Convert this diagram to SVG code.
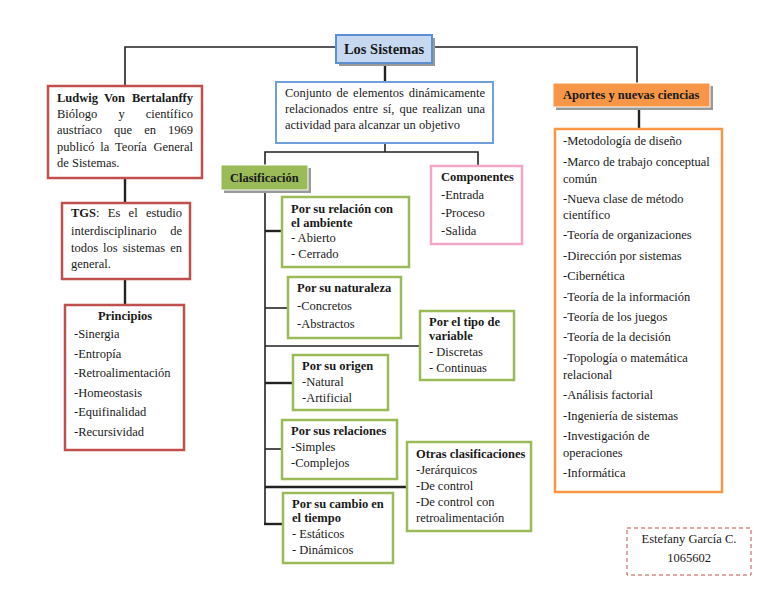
<svg xmlns="http://www.w3.org/2000/svg" width="768" height="594" viewBox="0 0 768 594" font-family="'Liberation Serif', 'Times New Roman', serif">
<defs>
<style>
text{font-family:"Liberation Serif","Times New Roman",serif;font-size:12.5px;fill:#1a1a1a}
.b{font-weight:bold}
.red{fill:#fff;stroke:#c0504d;stroke-width:2.5}
.grn{fill:#fff;stroke:#9bbb59;stroke-width:2.5}
.ln{stroke:#222;stroke-width:1.6;fill:none}
.lt{stroke:#222;stroke-width:2.4;fill:none}
.sh{fill:#999}
</style>
</defs>
<rect width="768" height="594" fill="#fff"/>
<g id="connectors">
<polyline class="ln" points="125,86 125,47 637,47 637,83"/>
<line class="lt" x1="385" y1="63" x2="385" y2="82"/>
<line class="ln" x1="385" y1="143" x2="385" y2="152"/>
<polyline class="ln" points="265,165 265,152 478,152 478,166"/>
<line class="ln" x1="265" y1="190" x2="265" y2="524"/>
<line class="lt" x1="265" y1="231" x2="282" y2="231"/>
<line class="ln" x1="265" y1="308" x2="288" y2="308"/>
<line class="ln" x1="265" y1="346" x2="420" y2="346"/>
<line class="lt" x1="265" y1="383" x2="293" y2="383"/>
<line class="ln" x1="265" y1="449" x2="282" y2="449"/>
<line class="lt" x1="265" y1="487" x2="407" y2="487"/>
<line class="lt" x1="264" y1="524" x2="283" y2="524"/>
<line class="lt" x1="125" y1="178" x2="125" y2="203"/>
<line class="lt" x1="125" y1="279" x2="125" y2="305"/>
<line class="lt" x1="639" y1="107" x2="639" y2="129"/>
</g>
<g id="los-sistemas">
<rect x="339" y="38" width="96" height="28" class="sh"/>
<rect x="336" y="35" width="96" height="28" fill="#c6d9f1" stroke="#5b8fd0" stroke-width="2"/>
<text x="384" y="54" class="b" text-anchor="middle" style="font-size:14.5px">Los Sistemas</text>
</g>
<g id="conjunto">
<rect x="276" y="82" width="217" height="61" fill="#fff" stroke="#6fa0dc" stroke-width="2"/>
<text y="97"><tspan x="285">Conjunto</tspan><tspan x="336.4">de</tspan><tspan x="353.1">elementos</tspan><tspan x="485" text-anchor="end">dinámicamente</tspan></text>
<text y="113"><tspan x="285">relacionados</tspan><tspan x="353.1">entre</tspan><tspan x="383">sí,</tspan><tspan x="399.4">que</tspan><tspan x="422.4">realizan</tspan><tspan x="485" text-anchor="end">una</tspan></text>
<text x="285" y="129">actividad para alcanzar un objetivo</text>
</g>
<g id="ludwig">
<rect x="48" y="86" width="154" height="92" class="red"/>
<text y="102" class="b"><tspan x="57">Ludwig</tspan><tspan x="103.9">Von</tspan><tspan x="193" text-anchor="end">Bertalanffy</tspan></text>
<text y="118"><tspan x="57">Biólogo</tspan><tspan x="118.4">y</tspan><tspan x="193" text-anchor="end">científico</tspan></text>
<text y="134"><tspan x="57">austríaco</tspan><tspan x="114.1">que</tspan><tspan x="144.2">en</tspan><tspan x="193" text-anchor="end">1969</tspan></text>
<text y="151"><tspan x="57">publicó</tspan><tspan x="100.3">la</tspan><tspan x="115.1">Teoría</tspan><tspan x="193" text-anchor="end">General</tspan></text>
<text x="57" y="167">de Sistemas.</text>
</g>
<g id="tgs">
<rect x="62" y="203" width="128" height="76" class="red"/>
<text y="217"><tspan x="71" class="b">TGS</tspan><tspan>:</tspan><tspan x="107.8">Es</tspan><tspan x="128.6">el</tspan><tspan x="182" text-anchor="end">estudio</tspan></text>
<text y="235"><tspan x="71">interdisciplinario</tspan><tspan x="182" text-anchor="end">de</tspan></text>
<text y="252"><tspan x="71">todos</tspan><tspan x="103.1">los</tspan><tspan x="122.7">sistemas</tspan><tspan x="182" text-anchor="end">en</tspan></text>
<text x="71" y="268">general.</text>
</g>
<g id="principios">
<rect x="65" y="305" width="119" height="145" class="red"/>
<text x="125" y="320" class="b" text-anchor="middle">Principios</text>
<text x="74" y="338">-Sinergia</text>
<text x="74" y="358">-Entropía</text>
<text x="74" y="377">-Retroalimentación</text>
<text x="74" y="397">-Homeostasis</text>
<text x="74" y="416">-Equifinalidad</text>
<text x="74" y="436">-Recursividad</text>
</g>
<g id="clasificacion">
<rect x="224" y="168" width="87" height="25" class="sh"/>
<rect x="221" y="165" width="87" height="25" fill="#9bbb59" stroke="#fff" stroke-width="1"/>
<text x="230" y="182" class="b">Clasificación</text>
</g>
<g id="componentes">
<rect x="431" y="166" width="91" height="78" fill="#fff" stroke="#f4a6c8" stroke-width="2.5"/>
<text x="441" y="181" class="b">Componentes</text>
<text x="441" y="199">-Entrada</text>
<text x="441" y="217">-Proceso</text>
<text x="441" y="235">-Salida</text>
</g>
<g id="relacion-ambiente">
<rect x="282" y="197" width="127" height="70" class="grn"/>
<text x="291" y="213" class="b">Por su relación con</text>
<text x="291" y="227" class="b">el ambiente</text>
<text x="291" y="242">- Abierto</text>
<text x="291" y="258">- Cerrado</text>
</g>
<g id="naturaleza">
<rect x="288" y="277" width="113" height="61" class="grn"/>
<text x="297" y="292" class="b">Por su naturaleza</text>
<text x="297" y="310">-Concretos</text>
<text x="297" y="328">-Abstractos</text>
</g>
<g id="tipo-variable">
<rect x="420" y="311" width="94" height="69" class="grn"/>
<text x="429" y="326" class="b">Por el tipo de</text>
<text x="429" y="340" class="b">variable</text>
<text x="429" y="356">- Discretas</text>
<text x="429" y="372">- Continuas</text>
</g>
<g id="origen">
<rect x="293" y="355" width="95" height="55" class="grn"/>
<text x="302" y="370" class="b">Por su origen</text>
<text x="302" y="386">-Natural</text>
<text x="302" y="402">-Artificial</text>
</g>
<g id="relaciones">
<rect x="282" y="420" width="115" height="59" class="grn"/>
<text x="291" y="435" class="b">Por sus relaciones</text>
<text x="291" y="451">-Simples</text>
<text x="291" y="467">-Complejos</text>
</g>
<g id="otras">
<rect x="407" y="442" width="124" height="89" class="grn"/>
<text x="416" y="458" class="b">Otras clasificaciones</text>
<text x="416" y="474">-Jerárquicos</text>
<text x="416" y="490">-De control</text>
<text x="416" y="506">-De control con</text>
<text x="416" y="522">retroalimentación</text>
</g>
<g id="cambio-tiempo">
<rect x="283" y="493" width="110" height="70" class="grn"/>
<text x="292" y="508" class="b">Por su cambio en</text>
<text x="292" y="522" class="b">el tiempo</text>
<text x="292" y="538">- Estáticos</text>
<text x="292" y="554">- Dinámicos</text>
</g>
<g id="aportes">
<rect x="556" y="86" width="157" height="24" class="sh"/>
<rect x="553" y="83" width="157" height="24" fill="#f79646" stroke="#fff" stroke-width="1"/>
<text x="563" y="99" class="b">Aportes y nuevas ciencias</text>
</g>
<g id="aportes-lista">
<rect x="555" y="129" width="167" height="363" fill="#fff" stroke="#f79646" stroke-width="2.5"/>
<text x="563" y="145">-Metodología de diseño</text>
<text x="563" y="166">-Marco de trabajo conceptual</text>
<text x="563" y="183">común</text>
<text x="563" y="203">-Nueva clase de método</text>
<text x="563" y="219">científico</text>
<text x="563" y="239">-Teoría de organizaciones</text>
<text x="563" y="260">-Dirección por sistemas</text>
<text x="563" y="280">-Cibernética</text>
<text x="563" y="301">-Teoría de la información</text>
<text x="563" y="321">-Teoría de los juegos</text>
<text x="563" y="341">-Teoría de la decisión</text>
<text x="563" y="362">-Topología o matemática</text>
<text x="563" y="379">relacional</text>
<text x="563" y="399">-Análisis factorial</text>
<text x="563" y="420">-Ingeniería de sistemas</text>
<text x="563" y="440">-Investigación de</text>
<text x="563" y="457">operaciones</text>
<text x="563" y="477">-Informática</text>
</g>
<g id="autor">
<rect x="627" y="528" width="124" height="47" fill="#fff" stroke="#c0504d" stroke-width="1" stroke-dasharray="4,3"/>
<text x="689" y="543" text-anchor="middle">Estefany García C.</text>
<text x="689" y="562" text-anchor="middle">1065602</text>
</g>
</svg>
